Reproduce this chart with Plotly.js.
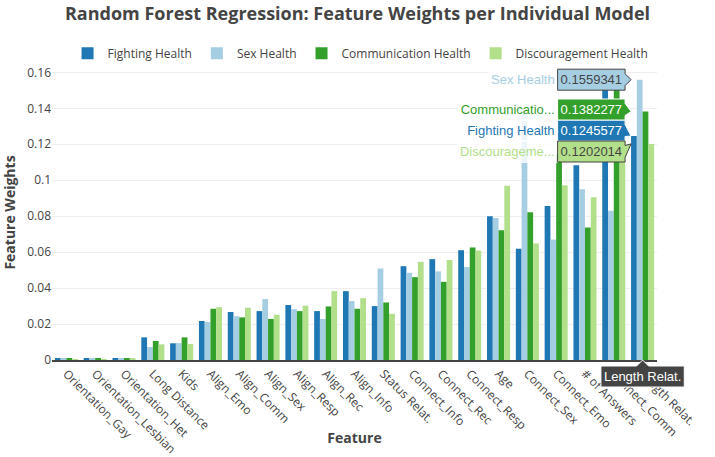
<!DOCTYPE html>
<html>
<head>
<meta charset="utf-8">
<script src="https://cdn.plot.ly/plotly-3.0.1.min.js"></script>
<style>
html, body { margin: 0; padding: 0; background: #fff; }
#chart { width: 715px; height: 457px; }
</style>
</head>
<body>
<div id="chart"></div>
<script>
var features = ["Orientation_Gay", "Orientation_Lesbian", "Orientation_Het", "Long Distance", "Kids",
  "Align_Emo", "Align_Comm", "Align_Sex", "Align_Resp", "Align_Rec", "Align_Info", "Status Relat.",
  "Connect_Info", "Connect_Rec", "Connect_Resp", "Age", "Connect_Sex", "Connect_Emo", "# of Answers",
  "Connect_Comm", "Length Relat."];

var fightingHealth = [0.0007, 0.0007, 0.0011, 0.0126, 0.0093, 0.0217, 0.0267, 0.0272, 0.0306, 0.0272,
  0.0383, 0.0300, 0.0522, 0.0561, 0.0611, 0.0800, 0.0619, 0.0856, 0.1083, 0.1510, 0.1245577];

var sexHealth = [0.0006, 0.0006, 0.0011, 0.0072, 0.0094, 0.0211, 0.0244, 0.0339, 0.0283, 0.0228,
  0.0328, 0.0509, 0.0485, 0.0493, 0.0517, 0.0790, 0.1405, 0.0670, 0.0950, 0.0830, 0.1559341];

var communicationHealth = [0.0008, 0.0007, 0.0006, 0.0106, 0.0126, 0.0285, 0.0237, 0.0228, 0.0272, 0.0298,
  0.0285, 0.0320, 0.0461, 0.0435, 0.0626, 0.0722, 0.0822, 0.1144, 0.0737, 0.1530, 0.1382277];

var discouragementHealth = [0.0002, 0.0005, 0.0011, 0.0087, 0.0089, 0.0294, 0.0291, 0.0252, 0.0302, 0.0383,
  0.0344, 0.0257, 0.0546, 0.0556, 0.0609, 0.0969, 0.0648, 0.0972, 0.0906, 0.1330, 0.1202014];

var seriesNames = ["Fighting Health", "Sex Health", "Communication Health", "Discouragement Health"];
var seriesColors = ["#1f78b4", "#a6cee3", "#33a02c", "#b2df8a"];
var seriesValues = [fightingHealth, sexHealth, communicationHealth, discouragementHealth];

var traces = seriesNames.map(function (name, i) {
  return {
    type: "bar",
    name: name,
    x: features,
    y: seriesValues[i],
    marker: { color: seriesColors[i] },
    hoverlabel: { namelength: name.length <= 15 ? -1 : 15 }
  };
});

var layout = {
  width: 715,
  height: 457,
  margin: { l: 52, r: 58, t: 65, b: 97 },
  paper_bgcolor: "#fff",
  plot_bgcolor: "#fff",
  font: { family: '"Open Sans", verdana, arial, sans-serif', size: 12, color: "#444" },
  title: {
    text: "Random Forest Regression: Feature Weights per Individual Model",
    font: { size: 18, color: "#444", weight: "bold" },
    x: 0.5, xref: "container", y: 0.97, yref: "container", yanchor: "middle"
  },
  barmode: "group",
  bargap: 0.2,
  bargroupgap: 0,
  hovermode: "x",
  showlegend: true,
  legend: {
    orientation: "h",
    x: 0.51, xanchor: "center",
    y: 1.04, yanchor: "middle",
    font: { size: 12, color: "#444" }
  },
  xaxis: {
    type: "category",
    tickangle: 45,
    tickfont: { size: 12, color: "#444" },
    showline: true,
    linecolor: "#444",
    linewidth: 2,
    ticks: "",
    showgrid: false,
    title: { text: "Feature", font: { size: 14, color: "#444", weight: "bold" } }
  },
  yaxis: {
    range: [0, 0.1641],
    dtick: 0.02,
    tick0: 0,
    ticks: "",
    gridcolor: "#eee",
    zeroline: false,
    hoverformat: ".7f",
    tickfont: { size: 12, color: "#444" },
    title: { text: "Feature Weights", font: { size: 14, color: "#444", weight: "bold" } }
  }
};

Plotly.newPlot("chart", traces, layout, { displayModeBar: false, staticPlot: false }).then(function (gd) {
  var done = false;
  try {
    if (Plotly.Fx && typeof Plotly.Fx.hover === "function") {
      Plotly.Fx.hover(gd, { xval: features.length - 1 }, "xy");
      done = !!gd.querySelector(".hoverlayer .hovertext");
    }
  } catch (e) { done = false; }
  if (!done) {
    var dl = gd.querySelector(".nsewdrag");
    if (dl) {
      var r = dl.getBoundingClientRect();
      var cx = r.left + r.width * ((features.length - 0.5) / features.length);
      var cy = r.top + r.height * 0.5;
      dl.dispatchEvent(new MouseEvent("mousemove", { clientX: cx, clientY: cy, bubbles: true }));
    }
  }
});
</script>
</body>
</html>
